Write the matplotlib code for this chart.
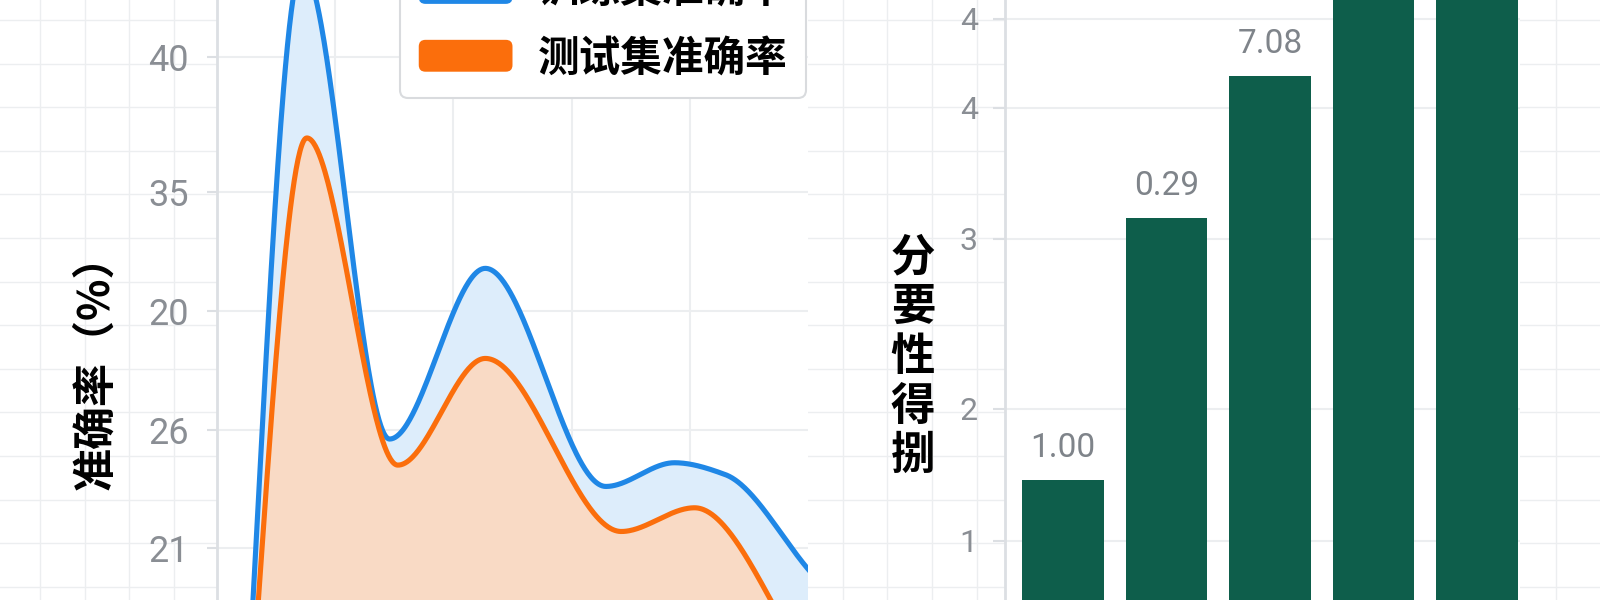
import numpy as np
import matplotlib
matplotlib.use("Agg")
import matplotlib.pyplot as plt
from matplotlib.patches import Patch, FancyBboxPatch
from matplotlib.legend_handler import HandlerPatch

plt.rcParams['font.family'] = ['Noto Sans CJK SC', 'DejaVu Sans']

# ---------------- data ----------------
train_x = [0.14, 0.72, 1.46, 2.27, 3.29, 3.87, 4.30, 5.02]
train_acc = [4.0, 44.5, 24.6, 31.8, 22.6, 23.6, 23.1, 19.0]
test_x = [0.14, 0.76, 1.53, 2.27, 3.42, 4.04, 5.02]
test_acc = [4.0, 37.3, 23.5, 28.0, 20.7, 21.7, 15.0]
series_labels = ['训练集准确率', '测试集准确率']
acc_tick_vals = [20, 25, 30, 35, 40.7]
acc_tick_labels = ['21', '26', '20', '35', '40']
acc_ylabel = '准确率（%）'

bar_pos = [0, 1, 2, 3, 4]
bar_vals = [1.46, 3.45, 4.52, 5.6, 5.6]
bar_labels = ['1.00', '0.29', '7.08']
imp_tick_vals = [1, 2, 3.29, 4.28, 4.955]
imp_tick_labels = ['1', '2', '3', '4', '4']
imp_ylabel = '分\n要\n性\n得\n捌'


def pchip(x, y, n=600):
    x = np.asarray(x, float)
    y = np.asarray(y, float)
    h = np.diff(x)
    d = np.diff(y) / h
    m = np.zeros_like(y)
    for k in range(1, len(x) - 1):
        if d[k - 1] * d[k] > 0:
            w1 = 2 * h[k] + h[k - 1]
            w2 = h[k] + 2 * h[k - 1]
            m[k] = (w1 + w2) / (w1 / d[k - 1] + w2 / d[k])
    m[0] = d[0]
    m[-1] = d[-1]
    xs = np.linspace(x[0], x[-1], n)
    idx = np.clip(np.searchsorted(x, xs) - 1, 0, len(h) - 1)
    t = (xs - x[idx]) / h[idx]
    h00 = 2 * t**3 - 3 * t**2 + 1
    h10 = t**3 - 2 * t**2 + t
    h01 = -2 * t**3 + 3 * t**2
    h11 = t**3 - t**2
    ys = h00 * y[idx] + h10 * h[idx] * m[idx] + h01 * y[idx + 1] + h11 * h[idx] * m[idx + 1]
    return xs, ys


class RoundPatchHandler(HandlerPatch):
    def create_artists(self, legend, orig_handle, xdescent, ydescent, width, height,
                       fontsize, trans):
        p = FancyBboxPatch((-xdescent, -ydescent), width, height,
                           boxstyle='round,pad=0,rounding_size=%f' % (0.16 * fontsize),
                           facecolor=orig_handle.get_facecolor(), edgecolor='none',
                           transform=trans)
        return [p]


W, H = 1600, 600
fig = plt.figure(figsize=(16, 6), dpi=100)
fig.patch.set_facecolor('white')

# background grid paper
bg = fig.add_axes([0, 0, 1, 1], zorder=-10)
bg.set_xlim(0, W)
bg.set_ylim(H, 0)
bg.set_xticks(np.arange(40, W, 44.6))
bg.set_yticks(np.arange(20, H, 43.6))
bg.grid(True, color='#eceef0', lw=1.0)
bg.tick_params(length=0, labelbottom=False, labelleft=False)
for s in bg.spines.values():
    s.set_visible(False)

BLUE = '#1f87e6'
ORANGE = '#fb6e0c'
GRAY = '#8a8e94'
SPINE = '#dcdfe3'

# ---------------- left: accuracy curves ----------------
ax = fig.add_axes([217 / W, 0, (808 - 217) / W, 1])
ax.set_facecolor('white')
ymin, ymax = 17.81, 43.12
ax.set_xlim(0, 5.0)
ax.set_ylim(ymin, ymax)

xb, yb = pchip(train_x, train_acc)
xo, yo = pchip(test_x, test_acc)
yo_on_b = np.interp(xb, xo, yo, left=ymin - 20, right=ymin - 20)
ax.fill_between(xb, yo_on_b, yb, where=yb >= yo_on_b, color='#ddedfb', lw=0, zorder=1)
ax.fill_between(xo, ymin - 20, yo, color='#f9dac5', lw=0, zorder=1.5)
ax.plot(xb, yb, color=BLUE, lw=3.7, zorder=3, solid_capstyle='round')
ax.plot(xo, yo, color=ORANGE, lw=3.7, zorder=3, solid_capstyle='round')

ax.set_yticks(acc_tick_vals, acc_tick_labels, fontsize=26, color=GRAY, fontfamily='Roboto')
ax.set_xticks([1, 2, 3, 4])
ax.tick_params(axis='x', length=0, labelbottom=False)
ax.tick_params(axis='y', length=7.2, width=1.5, color=SPINE, pad=13)
ax.grid(True, color='#eceef0', lw=1.5, zorder=0)
ax.set_axisbelow(True)
for name, s in ax.spines.items():
    s.set_visible(name == 'left')
ax.spines['left'].set_color(SPINE)
ax.spines['left'].set_linewidth(2)

ax.set_ylabel(acc_ylabel, fontsize=31, fontweight='bold', color='black',
              ha='center', va='center')
ax.yaxis.set_label_coords((95 - 217) / 591, (600 - 362) / 600)

handles = [Patch(facecolor=BLUE, edgecolor='none', label=series_labels[0]),
           Patch(facecolor=ORANGE, edgecolor='none', label=series_labels[1])]
leg = ax.legend(handles=handles, loc='lower left',
                bbox_to_anchor=(400 / W, 1 - 98 / H), bbox_transform=fig.transFigure,
                borderaxespad=0, handler_map={Patch: RoundPatchHandler()},
                prop={'size': 30, 'weight': 'bold'},
                handlelength=2.25, handleheight=0.8, handletextpad=0.6,
                labelspacing=0.62, borderpad=0.45, frameon=True, fancybox=True,
                framealpha=1, edgecolor='#d9dbde')
leg.get_frame().set_linewidth(1.5)
leg.set_zorder(10)

# ---------------- right: importance bars ----------------
ax2 = fig.add_axes([1005 / W, 0, (1520 - 1005) / W, 1])
ax2.set_facecolor('white')
ax2.set_xlim(-0.56, 4.415)
ax2.set_ylim(0.553, 5.098)
bars = ax2.bar(bar_pos, bar_vals, width=0.787, color='#0e5e4b', zorder=2)
for b, lab in zip(bars, bar_labels):
    ax2.annotate(lab, (b.get_x() + b.get_width() / 2, b.get_height()),
                 xytext=(0, 23), textcoords='offset points', ha='center', va='center',
                 fontsize=24, color='#7f848a', fontfamily='Roboto')
ax2.set_yticks(imp_tick_vals, imp_tick_labels, fontsize=23, color=GRAY, fontfamily='Roboto')
ax2.set_xticks([])
ax2.tick_params(axis='y', length=8.6, width=1.5, color=SPINE, pad=11)
ax2.grid(True, axis='y', color='#eceef0', lw=1.5, zorder=0)
ax2.set_axisbelow(True)
for name, s in ax2.spines.items():
    s.set_visible(name == 'left')
ax2.spines['left'].set_color(SPINE)
ax2.spines['left'].set_linewidth(2)

ax2.set_ylabel(imp_ylabel, rotation=0, fontsize=32, fontweight='bold', color='black',
               linespacing=1.1, ha='center', va='center')
ax2.yaxis.set_label_coords((913 - 1005) / 515, (600 - 357) / 600)

fig.savefig('out.png', dpi=100)
